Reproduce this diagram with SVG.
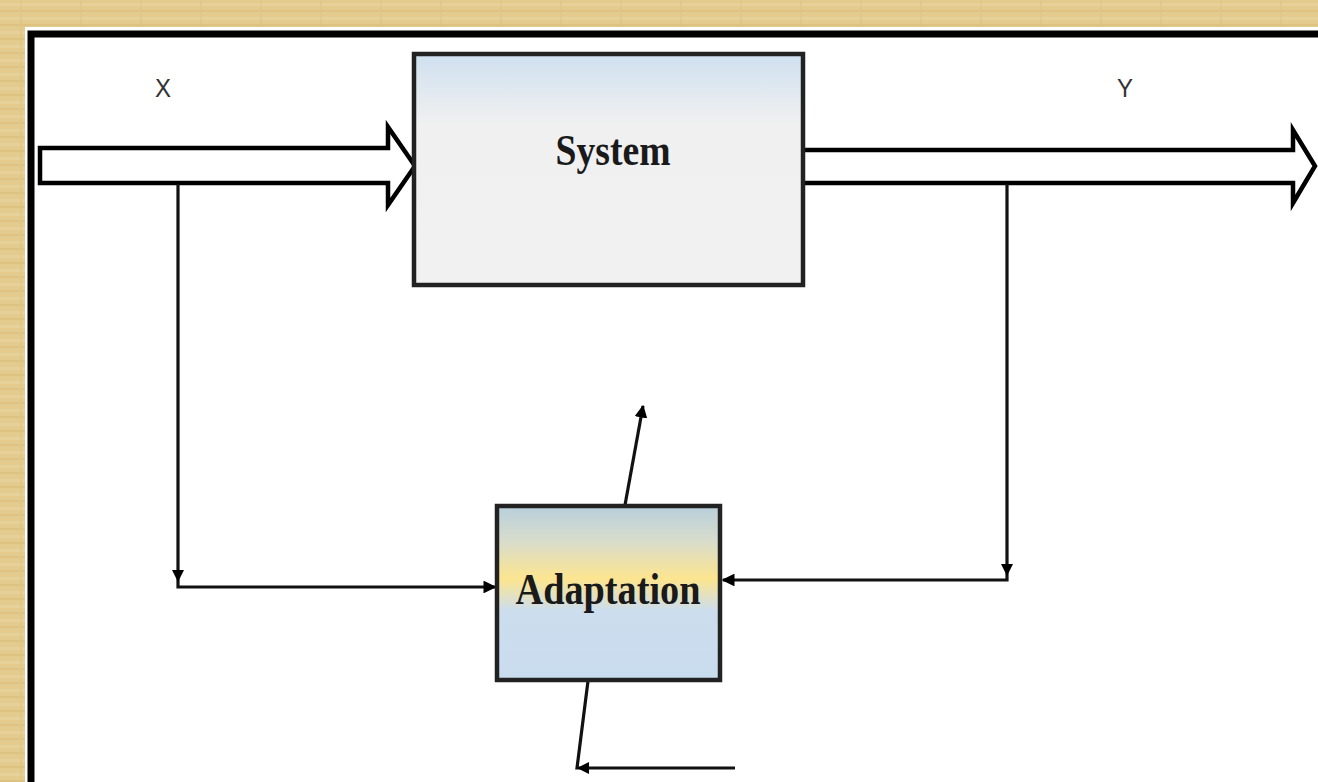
<svg xmlns="http://www.w3.org/2000/svg" width="1318" height="782" viewBox="0 0 1318 782">
<style>
.lbl{font-family:"Liberation Sans",Arial,sans-serif;font-size:26px;fill:#333}
.ttl{font-family:"Liberation Serif","Times New Roman",serif;font-weight:bold;fill:#1a1a1a;text-anchor:middle}
.box{stroke:#222;stroke-width:4.5}
.big{fill:#fff;stroke:#000;stroke-width:4.5;stroke-linejoin:miter}
.ln{fill:none;stroke:#111;stroke-width:3.2}
.hd{fill:#000}
</style>
<defs>
<pattern id="bgp" width="60" height="14" patternUnits="userSpaceOnUse">
<rect width="60" height="14" fill="#e3ca8d"/>
<rect y="3" width="60" height="3" fill="#e9d49e" opacity="0.7"/>
<rect y="10" width="60" height="2" fill="#d8bd7c" opacity="0.6"/>
<rect x="20" width="2" height="14" fill="#dcc383" opacity="0.5"/>
</pattern>
<linearGradient id="gSys" x1="0" y1="0" x2="0" y2="1">
<stop offset="0" stop-color="#cfe0ef"/>
<stop offset="0.3" stop-color="#f0f0f0"/>
<stop offset="1" stop-color="#f1f1f1"/>
</linearGradient>
<linearGradient id="gAd" x1="0" y1="0" x2="0" y2="1">
<stop offset="0" stop-color="#b8cfdc"/>
<stop offset="0.2" stop-color="#d8dccc"/>
<stop offset="0.42" stop-color="#fce58f"/>
<stop offset="0.6" stop-color="#ccdded"/>
<stop offset="1" stop-color="#c9dcee"/>
</linearGradient>
<marker id="ah" viewBox="0 0 10 10" refX="9" refY="5" markerWidth="4" markerHeight="4" orient="auto" markerUnits="strokeWidth">
<path d="M0,0 L10,5 L0,10 z" fill="#000"/>
</marker>
</defs>
<rect width="1318" height="782" fill="url(#bgp)"/>
<rect x="25" y="27" width="1300" height="760" fill="#fff"/>
<path d="M31,790 V34 H1325" fill="none" stroke="#000" stroke-width="7"/>

<g id="connectors">
<path d="M40,148 H388 V127 L415,166 L388,205 V183 H40 Z" class="big"/>
<path d="M803,150 H1293 V130 L1315,166 L1293,203 V183 H803" class="big"/>
<path d="M178,184 V587 H495" class="ln" marker-end="url(#ah)"/>
<path d="M172,570 L184,570 L178,582 Z" class="hd"/>
<path d="M1007,184 V580 H723" class="ln" marker-end="url(#ah)"/>
<path d="M1001,564 L1013,564 L1007,576 Z" class="hd"/>
<path d="M625,505 L643,406" class="ln" marker-end="url(#ah)"/>
<path d="M588,681 L577,768 H735" class="ln"/>
<path d="M577,768 L589,762 L589,774 Z" class="hd"/>
</g>

<g id="label-x"><text x="163" y="97" class="lbl" text-anchor="middle" textLength="16" lengthAdjust="spacingAndGlyphs">X</text></g>
<g id="label-y"><text x="1125" y="97" class="lbl" text-anchor="middle" textLength="16" lengthAdjust="spacingAndGlyphs">Y</text></g>

<g id="system">
<rect x="414" y="54" width="389" height="231" fill="url(#gSys)" class="box"/>
<text x="613" y="165" class="ttl" font-size="44" textLength="115" lengthAdjust="spacingAndGlyphs">System</text>
</g>

<g id="adaptation">
<rect x="497" y="506" width="223" height="174" fill="url(#gAd)" class="box"/>
<text x="608" y="604" class="ttl" font-size="45" textLength="185" lengthAdjust="spacingAndGlyphs">Adaptation</text>
</g>
</svg>
